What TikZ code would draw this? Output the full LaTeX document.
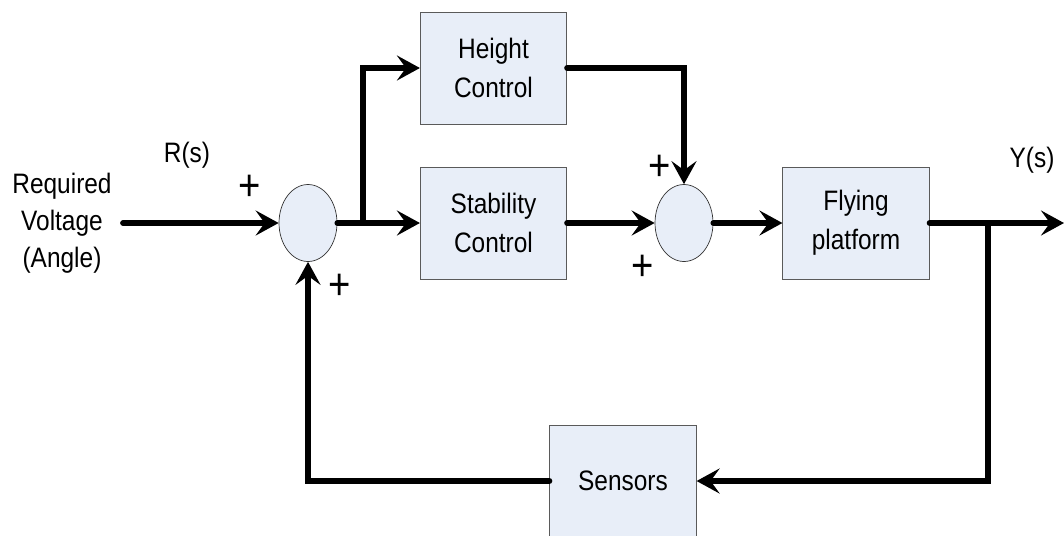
\documentclass[tikz,border=0pt]{standalone}
\usepackage{fontspec}
\setmainfont{Liberation Sans}[FakeStretch=0.87]
\usetikzlibrary{arrows.meta,positioning,shapes.geometric}
\definecolor{blkfill}{RGB}{232,238,248}
\definecolor{blkdraw}{RGB}{90,90,90}
\tikzset{
  blk/.style={rectangle, draw=blkdraw, thin, fill=blkfill,
              minimum width=2.93cm, minimum height=2.24cm, align=center,
              font=\fontsize{16}{22}\selectfont},
  sumj/.style={ellipse, draw=black!80, thin, fill=blkfill,
               minimum width=1.16cm, minimum height=1.54cm, inner sep=0pt},
  ln/.style={line width=3.3pt, line cap=round},
  ar/.style={ln, -{Stealth[length=4.6mm, width=5mm, inset=1.8mm]}},
  lbl/.style={font=\fontsize{16}{21}\selectfont, align=center},
  sgn/.style={font=\fontsize{25}{26}\selectfont},
}

\begin{document}
\begin{tikzpicture}[x=0.02cm, y=-0.02cm]
\useasboundingbox (0,0) rectangle (1064,535);

%% =====================================================================
%% forward path: summing junctions and blocks
%% =====================================================================
\node[lbl] (req) at (62,223) {Required\\Voltage\\(Angle)};
\node[lbl] (rs) at (187,155) {R(s)};
\node[lbl] (ys) at (1032,160) {Y(s)};

\coordinate (inp) at (123,223);
\node[sumj] (sum1) at (308,223) {};
\coordinate (br) at (363,223);

\node[blk] (hc) at (493.5,68)  {Height\\Control};
\node[blk] (sc) at (493.5,223) {Stability\\Control};

\node[sumj] (sum2) at (684,223) {};
\node[blk] (fp) at (856,223) {Flying\\platform};

\coordinate (ob) at (988,223);
\coordinate (outp) at (1064,223);

%% feedback block, cut by the lower edge
\node[blk] (sens) at (623,481) {Sensors};

%% signs at the junction inputs
\node[sgn] (p1) at (250,188) {+};
\node[sgn] (p2) at (340,287) {+};
\node[sgn] (p3) at (660,168) {+};
\node[sgn] (p4) at (643,268) {+};

%% =====================================================================
%% connectors
%% =====================================================================
\draw[ar] (inp) -- (sum1);
\draw[ln] (sum1) -- (br);
\draw[ar] (br) |- (hc);
\draw[ar] (br) -- (sc);
\draw[ar] (hc) -| (sum2);
\draw[ar] (sc) -- (sum2);
\draw[ar] (sum2) -- (fp);
\draw[ar] (fp) -- (outp);
\draw[ar] (ob) |- (sens);
\draw[ar] (sens) -| (sum1);

\end{tikzpicture}
\end{document}
